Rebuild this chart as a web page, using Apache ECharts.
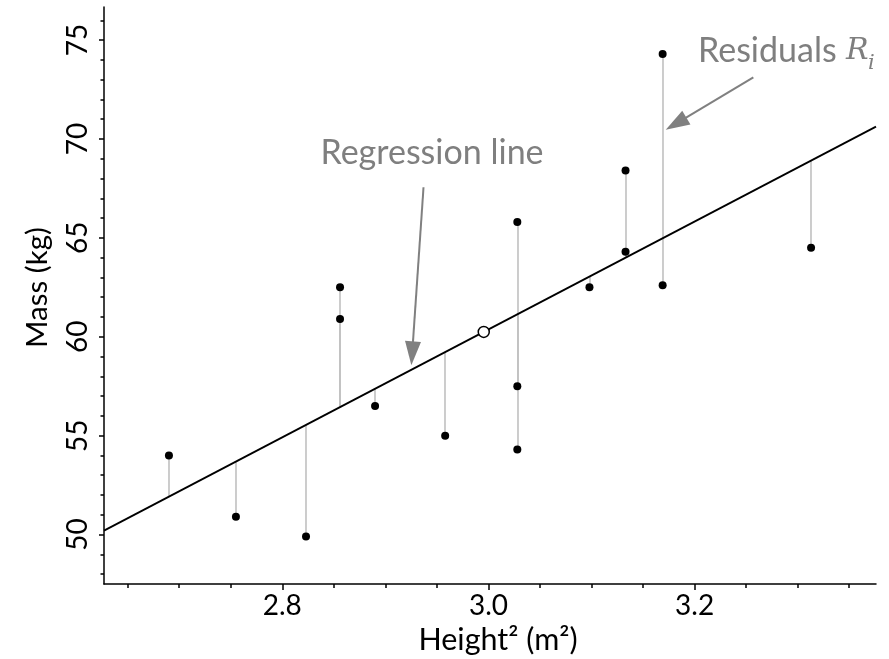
<!DOCTYPE html>
<html>
<head>
<meta charset="utf-8">
<script src="https://cdn.jsdelivr.net/npm/echarts@6/dist/echarts.min.js"></script>
<style>
  html, body { margin: 0; padding: 0; background: #fff; }
  #chart { width: 889px; height: 659px; }
</style>
</head>
<body>
<div id="chart"></div>
<script>
// 身高平方 - 体重 散点 + 回归线 + 残差
const heightSq = [2.690, 2.755, 2.823, 2.856, 2.856, 2.890, 2.958, 3.028, 3.028, 3.028, 3.098, 3.133, 3.133, 3.169, 3.169, 3.313]
const mass = [54.0, 50.9, 49.9, 62.5, 60.9, 56.5, 55.0, 65.8, 57.5, 54.3, 62.5, 68.4, 64.3, 74.3, 62.6, 64.5]

const xRange = [2.627, 3.376]
const yRange = [47.5, 76.67]
const xMajorTicks = [2.8, 3.0, 3.2]
const xMinorTicks = [2.65, 2.7, 2.75, 2.8, 2.85, 2.9, 2.95, 3.0, 3.05, 3.1, 3.15, 3.2, 3.25, 3.3, 3.35]
const yMajorTicks = [50, 55, 60, 65, 70, 75]
const yMinorTicks = [48, 49, 50, 51, 52, 53, 54, 55, 56, 57, 58, 59, 60, 61, 62, 63, 64, 65, 66, 67, 68, 69, 70, 71, 72, 73, 74, 75, 76]

// 注释箭头 (数据坐标, 终点为箭头中心)
const regArrow = [[2.937, 67.56], [2.926, 59.16]]
const resArrow = [[3.257, 73.11], [3.182, 70.77]]

// 最小二乘回归
const n = heightSq.length
const xMean = heightSq.reduce((a, b) => a + b, 0) / n
const yMean = mass.reduce((a, b) => a + b, 0) / n
let sxy = 0, sxx = 0
for (let i = 0; i < n; i++) {
  sxy += (heightSq[i] - xMean) * (mass[i] - yMean)
  sxx += (heightSq[i] - xMean) * (heightSq[i] - xMean)
}
const slope = sxy / sxx
const intercept = yMean - slope * xMean
const fit = x => intercept + slope * x

const points = heightSq.map((x, i) => [x, mass[i]])
const residuals = heightSq.map((x, i) => ({ coords: [[x, mass[i]], [x, fit(x)]] }))

const FONT = 'Lato'
const GREY = '#7f7f7f'

function xAxisBase() {
  return {
    type: 'value',
    gridIndex: 0,
    position: 'bottom',
    min: xRange[0],
    max: xRange[1],
    splitLine: { show: false }
  }
}
function yAxisBase() {
  return {
    type: 'value',
    gridIndex: 0,
    position: 'left',
    min: yRange[0],
    max: yRange[1],
    splitLine: { show: false }
  }
}

let myEcharts = echarts.init(document.getElementById('chart'))
const options = {
  animation: false,
  backgroundColor: '#fff',
  grid: { left: 104, right: 13, top: 7, bottom: 75, outerBoundsMode: 'none' },
  xAxis: [
    Object.assign(xAxisBase(), {
      axisLine: { show: true, lineStyle: { color: '#000', width: 1.5 } },
      axisTick: { show: true, length: 6, customValues: xMajorTicks, lineStyle: { color: '#000', width: 1.5 } },
      axisLabel: {
        customValues: xMajorTicks,
        formatter: v => v.toFixed(1),
        fontFamily: FONT, fontSize: 28, color: '#000', margin: 8
      },
      name: 'Height² (m²)',
      nameLocation: 'middle',
      nameGap: 41,
      nameTextStyle: { fontFamily: FONT, fontSize: 30.5, color: '#000', padding: [0, 0, 0, 16] }
    }),
    Object.assign(xAxisBase(), {
      axisLine: { show: false },
      axisTick: { show: true, length: 4, customValues: xMinorTicks, lineStyle: { color: '#000', width: 1.5 } },
      axisLabel: { show: false }
    })
  ],
  yAxis: [
    Object.assign(yAxisBase(), {
      axisLine: { show: true, lineStyle: { color: '#000', width: 1.5 } },
      axisTick: { show: true, length: 5, customValues: yMajorTicks, lineStyle: { color: '#000', width: 1.5 } },
      axisLabel: {
        customValues: yMajorTicks,
        rotate: 90,
        fontFamily: FONT, fontSize: 28, color: '#000', margin: 12
      },
      name: 'Mass (kg)',
      nameLocation: 'middle',
      nameGap: 52,
      nameTextStyle: { fontFamily: FONT, fontSize: 29.5, color: '#000', padding: [0, 0, 0, 16] }
    }),
    Object.assign(yAxisBase(), {
      axisLine: { show: false },
      axisTick: { show: true, length: 3.5, customValues: yMinorTicks, lineStyle: { color: '#000', width: 1.5 } },
      axisLabel: { show: false }
    })
  ],
  series: [
    {
      // 残差
      type: 'lines',
      coordinateSystem: 'cartesian2d',
      xAxisIndex: 0,
      yAxisIndex: 0,
      silent: true,
      z: 1,
      lineStyle: { color: '#c0c0c0', width: 1.6, opacity: 1 },
      data: residuals
    },
    {
      // 回归线
      type: 'line',
      xAxisIndex: 0,
      yAxisIndex: 0,
      z: 2,
      showSymbol: false,
      silent: true,
      lineStyle: { color: '#000', width: 1.8 },
      data: [[xRange[0], fit(xRange[0])], [xRange[1], fit(xRange[1])]],
      markLine: {
        silent: true,
        symbol: ['none', 'triangle'],
        symbolSize: [16, 24],
        label: { show: false },
        lineStyle: { color: '#808080', width: 2, type: 'solid', opacity: 1 },
        itemStyle: { color: '#808080', opacity: 1 },
        data: [
          [{ coord: regArrow[0] }, { coord: regArrow[1] }],
          [{ coord: resArrow[0] }, { coord: resArrow[1] }]
        ]
      }
    },
    {
      type: 'scatter',
      xAxisIndex: 0,
      yAxisIndex: 0,
      z: 3,
      symbolSize: 8,
      itemStyle: { color: '#000', opacity: 1 },
      data: points
    },
    {
      // 均值点
      type: 'scatter',
      xAxisIndex: 0,
      yAxisIndex: 0,
      z: 4,
      symbolSize: 11,
      itemStyle: { color: '#fff', borderColor: '#000', borderWidth: 1.5, opacity: 1 },
      data: [[xMean, yMean]]
    }
  ],
  graphic: [
    {
      type: 'text',
      x: 432, y: 153,
      style: { text: 'Regression line', fontFamily: FONT, fontSize: 34, fill: GREY, align: 'center', verticalAlign: 'middle' }
    },
    {
      type: 'text',
      x: 698, y: 51,
      style: { text: 'Residuals', fontFamily: FONT, fontSize: 34, fill: GREY, align: 'left', verticalAlign: 'middle' }
    },
    {
      type: 'text',
      x: 846, y: 51,
      style: { text: 'R', fontFamily: 'DejaVu Serif', fontStyle: 'italic', fontSize: 30, fill: GREY, align: 'left', verticalAlign: 'middle' }
    },
    {
      type: 'text',
      x: 868, y: 64,
      style: { text: 'i', fontFamily: 'DejaVu Serif', fontStyle: 'italic', fontSize: 21, fill: GREY, align: 'left', verticalAlign: 'middle' }
    }
  ]
}
options && myEcharts.setOption(options)
</script>
</body>
</html>
